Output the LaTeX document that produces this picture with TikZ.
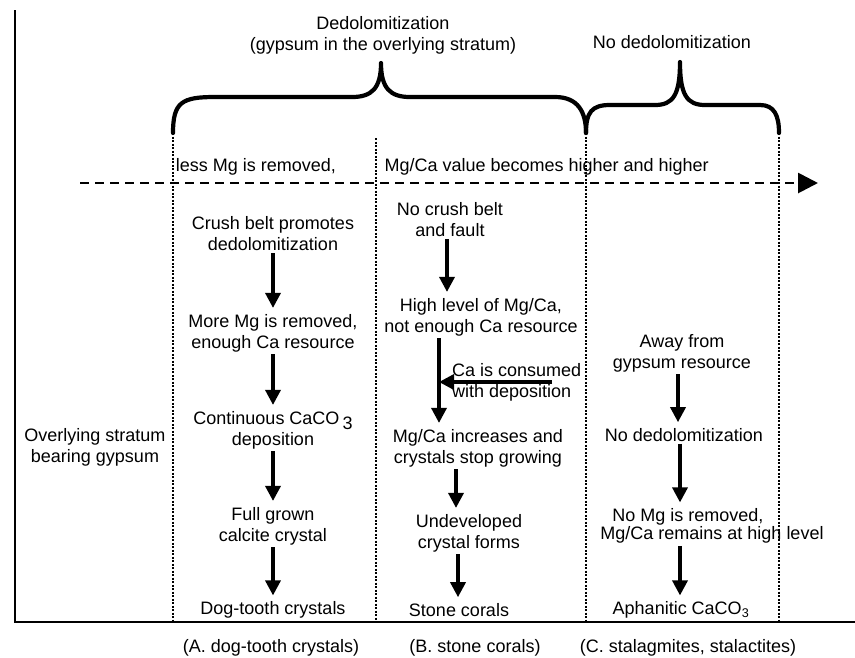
\documentclass[tikz,border=0pt]{standalone}
\usepackage{fontspec}
\setmainfont{Liberation Sans}
\usetikzlibrary{arrows.meta, calc, positioning}
\newcommand{\lowsub}[1]{\raisebox{-0.55ex}{#1}}
\tikzset{
	stage/.style={align=center,
		inner sep=2pt,
		},
	flow/.style={-{Triangle[length=15pt,width=15pt]},
		line width=3.4pt,
		shorten >=4pt,
		},
	divider/.style={line width=2.6pt,
		dash pattern=on 2.2pt off 1.3pt,
		},
	trend/.style={line width=2.8pt,
		dash pattern=on 9pt off 6pt,
		-{Triangle[length=20pt,width=20pt]},
		},
	axis/.style={line width=2.8pt},
	brace/.style={line width=4.2pt,
		line cap=round,
		line join=round,
		},
	every node/.style={font=\fontsize{18}{21}\selectfont},
}

\begin{document}
\begin{tikzpicture}[x=1pt,y=-1pt]
   \useasboundingbox (0,0) rectangle (855,657);

   % frame
   \coordinate (top) at (15,10);
   \coordinate (origin) at (15,622);
   \coordinate (far) at (855,622);
   \draw[axis] (top) -- (origin) -- (far);

   % braces
   \coordinate (bA) at (173,133);
   \coordinate (bB) at (586,133);
   \coordinate (bC) at (779,133);
   \coordinate (tip1) at (381,63);
   \coordinate (tip2) at (680,62);
   \draw[brace] (bA) .. controls (173,102) and (182,97) .. (215,97) -- (352,97)
   	.. controls (372,97) and (381,88) .. (tip1)
   	.. controls (381,88) and (390,97) .. (410,97) -- (555,97)
   	.. controls (578,97) and (586,112) .. (bB);
   \draw[brace] (bB) .. controls (586,112) and (592,105) .. (610,105) -- (655,105)
   	.. controls (673,105) and (680,95) .. (tip2)
   	.. controls (680,95) and (687,105) .. (705,105) -- (760,105)
   	.. controls (774,105) and (779,115) .. (bC);

   \node[stage] (dedo) at (383,35) {Dedolomitization\\(gypsum in the overlying stratum)};
   \node (nodedo) at (672,42) {No dedolomitization};

   % column dividers
   \coordinate (bM) at (376,138);
   \foreach \c in {bA,bM,bB,bC}
   	\draw[divider] (\c) -- (\c |- origin);

   % trend line
   \coordinate (tstart) at (80,183);
   \coordinate (tend) at (818,183);
   \draw[trend] (tstart) -- (tend);
   \node (less) at (256,167) {less Mg is removed,};
   \node[anchor=west] (ratio) at (381,167) {Mg/Ca value becomes higher and higher};

   \node[stage] (over) at (95,447) {Overlying stratum\\bearing gypsum};

   % A. dog-tooth crystals
   \node[stage] (a1) at (273,234) {Crush belt promotes\\dedolomitization};
   \node[stage] (a2) at (273,333) {More Mg is removed,\\enough Ca resource};
   \node[stage] (a3) at (273,430) {Continuous CaCO\,\lowsub{3}\\deposition};
   \node[stage] (a4) at (273,526) {Full grown\\calcite crystal};
   \node[stage] (a5) at (273,610) {Dog-tooth crystals};
   \draw[flow] (a1) -- (a2);
   \draw[flow] (a2) -- (a3);
   \draw[flow] (a3) -- (a4);
   \draw[flow] (a4) -- (a5);

   % B. stone corals
   \node[stage] (b1) at (450,220) {No crush belt\\and fault};
   \node[stage] (b2) at (481,317) {High level of Mg/Ca,\\not enough Ca resource};
   \node[stage] (b3) at (478,448) {Mg/Ca increases and\\crystals stop growing};
   \node[stage] (b4) at (469,533) {Undeveloped\\crystal forms};
   \node[stage] (b5) at (459,610) {Stone corals};
   \node[stage, align=left, anchor=west] (cons) at (450,382) {Ca is consumed\\with deposition};
   \draw[flow] ([xshift=-3pt]b1.south) -- ([xshift=-34pt]b2.north);
   \draw[flow] ([xshift=-42pt]b2.south) -- coordinate (merge) ([xshift=-39pt]b3.north);
   \draw[flow, shorten >=0pt] ([xshift=102pt]cons.west) -- (cons.west -| merge);
   \draw[flow] ([xshift=-22pt]b3.south) -- ([xshift=-13pt]b4.north);
   \draw[flow] ([xshift=-11pt]b4.south) -- ([xshift=-1pt]b5.north);

   % C. stalagmites, stalactites
   \node[stage] (c1) at (682,353) {Away from\\gypsum resource};
   \node[stage] (c2) at (684,435) {No dedolomitization};
   \node[stage] (c3) at (688,517) {No Mg is removed,};
   \node[stage, below=-3pt of c3, xshift=24pt] (c4) {Mg/Ca remains at high level};
   \node[stage] (c5) at (681,610) {Aphanitic CaCO\textsubscript{3}};
   \draw[flow] ([xshift=-4pt]c1.south) -- ([xshift=-6pt]c2.north);
   \draw[flow] ([xshift=-4pt]c2.south) -- ([xshift=-8pt]c3.north);
   \draw[flow] ([xshift=-32pt]c4.south) -- ([xshift=-1pt]c5.north);

   % column names
   \node (nameA) at (271,648) {(A. dog-tooth crystals)};
   \node (nameB) at (475,648) {(B. stone corals)};
   \node (nameC) at (688,648) {(C. stalagmites, stalactites)};
\end{tikzpicture}
\end{document}
